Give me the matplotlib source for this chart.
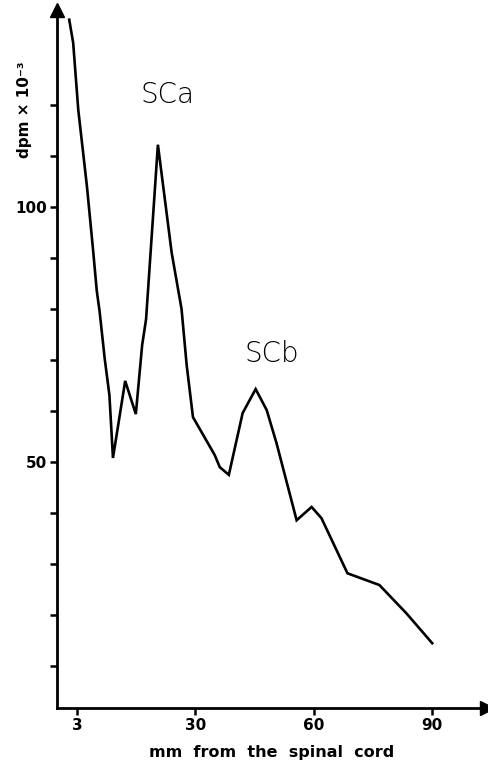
import matplotlib
matplotlib.use('Agg')
from matplotlib import pyplot as plt
import numpy as np

# distance from spinal cord (mm, tick labelled "3" sits at 0) and dpm x 10^-3
distance = [-2.0, -1.0, 0.3, 2.5, 4.0, 5.0, 5.7, 7.0, 8.2, 9.1,
            12.2, 14.9, 16.5, 17.5, 20.5, 24.0, 26.5, 27.8, 29.4,
            34.9, 36.2, 38.5, 42.0, 45.3, 48.1, 50.6, 55.7, 59.5,
            62.0, 68.6, 76.7, 83.5, 90.1]
dpm = [136.7, 132.2, 119.0, 104.0, 92.0, 83.5, 79.6, 70.3, 63.1, 50.8,
       65.9, 59.4, 72.9, 78.0, 112.2, 91.0, 80.0, 69.0, 58.8,
       51.4, 49.0, 47.5, 59.6, 64.3, 60.2, 53.7, 38.6, 41.2,
       39.0, 28.2, 25.9, 20.4, 14.5]

xtick_pos = [0, 30, 60, 90]
xtick_labels = ['3', '30', '60', '90']
ytick_pos = list(range(10, 130, 10))
ytick_labels = ['' if v not in (50, 100) else str(v) for v in ytick_pos]

peaks = ['SCa', 'SCb']
peak_x = [23.0, 49.4]
peak_y = [122.0, 71.2]

W, H = 489, 763
fig = plt.figure(figsize=(W / 100, H / 100), dpi=100)
ax = fig.add_axes([57 / W, 55 / H, (487 - 57) / W, (753 - 55) / H])

ax.plot(distance, dpm, color='black', linewidth=1.9, solid_joinstyle='miter')

ax.set_xlim(-5.1, 104)
ax.set_ylim(1.8, 138.6)

for s in ['top', 'right']:
    ax.spines[s].set_visible(False)
for s in ['left', 'bottom']:
    ax.spines[s].set_linewidth(2.0)

# arrow heads on the axes
ax.plot(1, 0, '>k', markersize=10, transform=ax.transAxes, clip_on=False)
ax.plot(0, 1, '^k', markersize=10, transform=ax.transAxes, clip_on=False)

ax.set_xticks(xtick_pos)
ax.set_xticklabels(xtick_labels, fontsize=11, fontweight='bold')
ax.set_yticks(ytick_pos)
ax.set_yticklabels(ytick_labels, fontsize=11, fontweight='bold')
ax.tick_params(direction='out', length=5, width=1.8, pad=2)

for name, px, py in zip(peaks, peak_x, peak_y):
    ax.text(px, py, name, fontsize=20, ha='center', va='center',
            fontweight='light')

fig.text(272 / W, 1 - 753 / H, 'mm  from  the  spinal  cord', fontsize=11.5,
         fontweight='bold', ha='center', va='center')
fig.text(25 / W, 1 - 110 / H, 'dpm \u00d7 10\u207b\u00b3', fontsize=11,
         fontweight='bold', rotation=90, ha='center', va='center')

plt.savefig('out.png', dpi=100)
